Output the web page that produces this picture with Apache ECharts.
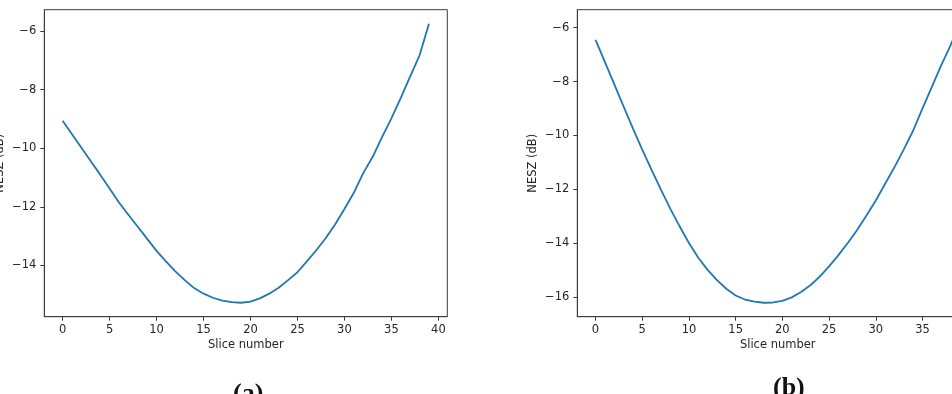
<!DOCTYPE html>
<html>
<head>
<meta charset="utf-8">
<script src="https://cdn.jsdelivr.net/npm/echarts@6/dist/echarts.min.js"></script>
<style>
html,body{margin:0;padding:0;background:#fff;overflow:hidden;width:952px;height:394px;}
#chart{width:1000px;height:394px;}
</style>
</head>
<body>
<div id="chart"></div>
<script>
// Slice index 0..39
const slices = [0,1,2,3,4,5,6,7,8,9,10,11,12,13,14,15,16,17,18,19,20,21,22,23,24,25,26,27,28,29,30,31,32,33,34,35,36,37,38,39];

// (a) NESZ (dB)
const neszA = [-9.06,-9.52,-9.98,-10.44,-10.9,-11.37,-11.85,-12.27,-12.68,-13.09,-13.5,-13.86,-14.2,-14.5,-14.77,-14.96,-15.1,-15.2,-15.25,-15.27,
               -15.23,-15.12,-14.96,-14.76,-14.5,-14.23,-13.86,-13.48,-13.07,-12.6,-12.07,-11.52,-10.85,-10.3,-9.62,-8.98,-8.28,-7.55,-6.83,-5.75];

// (b) NESZ (dB)
const neszB = [-6.45,-7.27,-8.1,-8.92,-9.74,-10.53,-11.28,-12.02,-12.72,-13.38,-14.0,-14.55,-15.0,-15.38,-15.7,-15.95,-16.1,-16.18,-16.22,-16.21,
               -16.15,-16.02,-15.82,-15.57,-15.25,-14.87,-14.45,-14.0,-13.52,-12.98,-12.42,-11.8,-11.18,-10.52,-9.82,-9.0,-8.2,-7.4,-6.66,-5.85];

const xTicks = [0,5,10,15,20,25,30,35,40];
const yTicksA = [-14,-12,-10,-8,-6];
const yTicksB = [-16,-14,-12,-10,-8,-6];
const xName = 'Slice number';
const yName = 'NESZ (dB)';
const captions = ['(a)','(b)'];

function pad(vals){
  let lo = Math.min.apply(null, vals), hi = Math.max.apply(null, vals);
  const m = (hi - lo) * 0.05;
  return [lo - m, hi + m];
}
const xr = pad(slices);
const yrA = pad(neszA);
const yrB = pad(neszB);

const font = 'DejaVu Sans';
const txt = '#262626';
const frame = '#3c3c3c';
const fmt = v => String(v).replace('-', '\u2212');

function xAxis(idx){
  return {
    type:'value', gridIndex: idx, min: xr[0], max: xr[1],
    name: xName, nameLocation:'middle', nameGap: 22, nameMoveOverlap:false,
    nameTextStyle:{fontFamily:font, fontSize:11.5, color:txt},
    axisLine:{show:true, onZero:false, lineStyle:{color:frame, width:1}},
    axisTick:{show:true, inside:false, length:4, customValues: xTicks, lineStyle:{color:frame}},
    axisLabel:{show:true, margin:7, customValues: xTicks, formatter: fmt,
               fontFamily:font, fontSize:11.5, color:txt},
    splitLine:{show:false}
  };
}
function yAxis(idx, yr, ticks){
  return {
    type:'value', gridIndex: idx, min: yr[0], max: yr[1],
    name: yName, nameLocation:'middle', nameGap: 38, nameRotate: 90, nameMoveOverlap:false,
    nameTextStyle:{fontFamily:font, fontSize:11.5, color:txt},
    axisLine:{show:true, onZero:false, lineStyle:{color:frame, width:1}},
    axisTick:{show:true, inside:false, length:4, customValues: ticks, lineStyle:{color:frame}},
    axisLabel:{show:true, margin:8, customValues: ticks, formatter: fmt,
               fontFamily:font, fontSize:11.5, color:txt},
    splitLine:{show:false}
  };
}

const chart = echarts.init(document.getElementById('chart'), null, {renderer:'canvas'});
chart.setOption({
  animation:false,
  backgroundColor:'#fff',
  grid:[
    {left:44.3, top:9.7, width:403, bottom:77.3, outerBoundsMode:'none', containLabel:false,
     show:true, borderColor:frame, borderWidth:1, backgroundColor:'transparent'},
    {left:577.3, top:9.7, width:400.8, bottom:77.3, outerBoundsMode:'none', containLabel:false,
     show:true, borderColor:frame, borderWidth:1, backgroundColor:'transparent'}
  ],
  xAxis:[xAxis(0), xAxis(1)],
  yAxis:[yAxis(0, yrA, yTicksA), yAxis(1, yrB, yTicksB)],
  series:[
    {type:'line', xAxisIndex:0, yAxisIndex:0, data: slices.map((s,i)=>[s, neszA[i]]),
     showSymbol:false, smooth:false, lineStyle:{color:'#1f77b4', width:1.8}},
    {type:'line', xAxisIndex:1, yAxisIndex:1, data: slices.map((s,i)=>[s, neszB[i]]),
     showSymbol:false, smooth:false, lineStyle:{color:'#1f77b4', width:1.8}}
  ],
  graphic:[
    {type:'text', left:233, top:381, style:{text:captions[0], font:'bold 26px "Liberation Serif"', fill:'#111'}},
    {type:'text', left:773, top:375, style:{text:captions[1], font:'bold 26px "Liberation Serif"', fill:'#111'}}
  ]
});
</script>
</body>
</html>
